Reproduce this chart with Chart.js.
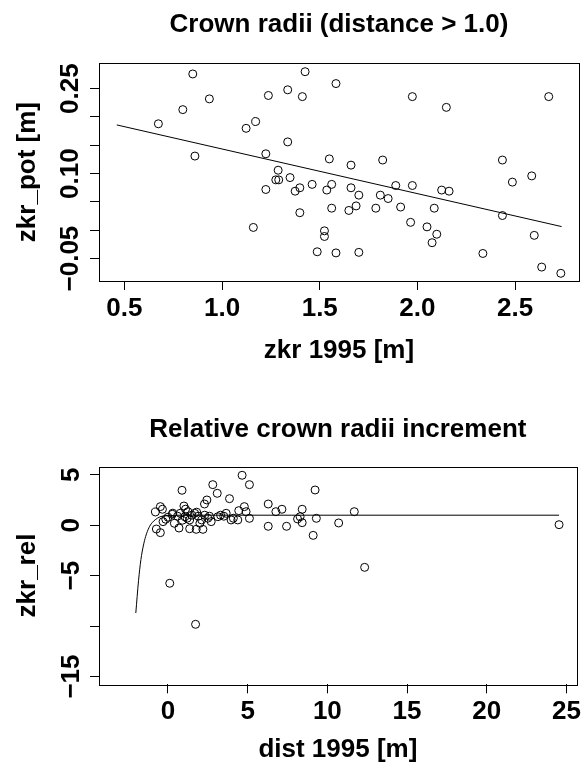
<!DOCTYPE html>
<html>
<head>
<meta charset="utf-8">
<title>Crown radii</title>
<script src="https://cdn.jsdelivr.net/npm/chart.js@4.4.1/dist/chart.umd.min.js"></script>
<style>
  body { margin: 0; background: #fff; }
  canvas { display: block; }
</style>
</head>
<body>
<canvas id="radiiChart" width="584" height="384"></canvas>
<canvas id="incrementChart" width="584" height="385"></canvas>
<script>
// upper panel: zkr_pot against zkr 1995
const zkr1995 = [0.674, 0.799, 0.850, 0.935, 0.861, 1.123, 1.172, 1.160, 1.237, 1.224,
    1.224, 1.287, 1.275, 1.290, 1.336, 1.336, 1.348, 1.411, 1.425, 1.374,
    1.398, 1.398, 1.461, 1.487, 1.524, 1.524, 1.536, 1.549, 1.561, 1.561,
    1.583, 1.583, 1.660, 1.660, 1.700, 1.686, 1.649, 1.700, 1.822, 1.810,
    1.850, 1.787, 1.889, 1.974, 1.974, 1.914, 1.965, 2.049, 2.099, 2.075,
    2.086, 2.124, 2.162, 2.148, 2.335, 2.435, 2.435, 2.486, 2.585, 2.598,
    2.636, 2.672, 2.734];
const zkrPot = [0.188, 0.213, 0.276, 0.232, 0.131, 0.180, 0.192, 0.005, 0.238, 0.135,
    0.072, 0.106, 0.089, 0.089, 0.248, 0.156, 0.093, 0.236, 0.280, 0.069,
    0.075, 0.031, 0.081, -0.038, -0.001, -0.011, 0.071, 0.126, 0.081, 0.039,
    0.259, -0.040, 0.115, 0.075, 0.062, 0.043, 0.035, -0.039, 0.124, 0.062,
    0.056, 0.039, 0.079, 0.079, 0.236, 0.041, 0.014, 0.006, -0.007, -0.022,
    0.039, 0.071, 0.069, 0.217, -0.041, 0.124, 0.026, 0.085, 0.096, -0.009,
    -0.065, 0.236, -0.076];
const fitTopX = [0.461, 2.738];
const fitTopY = [0.186, 0.0065];
const topXTicks = [0.5, 1.0, 1.5, 2.0, 2.5];
const topXLabels = ['0.5', '1.0', '1.5', '2.0', '2.5'];
const topYTicks = [-0.05, 0, 0.05, 0.10, 0.15, 0.20, 0.25];
const topYLabels = ['\u22120.05', '', '', '0.10', '', '', '0.25'];

// lower panel: relative increment against distance
const dist1995 = [-0.79, -0.48, -0.35, -0.73, -0.48, -0.31, -0.14, 0.11, 0.27, 0.40,
    0.69, 0.88, 0.77, 1.00, 1.06, 1.36, 1.36, 1.25, 1.73, 1.67,
    1.77, 2.19, 2.11, 2.29, 2.44, 2.71, 2.81, 3.09, 3.13, 3.65,
    3.86, 3.96, 4.38, 4.44, 4.65, 4.79, 5.11, 5.11, 4.90, 6.29,
    6.29, 6.77, 7.15, 7.44, 8.42, 8.13, 8.29, 8.42, 9.23, 9.31,
    9.11, 10.71, 11.69, 12.34, 24.54, 0.00, 0.30, 0.60, 1.20, 1.50,
    1.90, 2.00, 2.30, 2.60, 3.30, 3.50, 4.10, 0.90, 1.80, 1.10, 2.50];
const zkrRel = [1.32, 1.85, 1.59, -0.37, -0.73, 0.36, 0.60, -5.75, 1.09, 0.20,
    -0.27, 3.47, 1.19, 1.91, 0.85, -0.34, 0.53, 1.35, -9.82, 1.19,
    -0.40, -0.40, 0.53, 2.11, 2.51, 0.36, 4.03, 3.17, 0.85, 1.19,
    2.64, 0.53, 0.53, 1.45, 4.96, 1.85, 4.03, 0.69, 1.35, 2.11,
    -0.10, 1.35, 1.59, -0.10, 1.59, 0.63, 0.85, 0.26, 3.50, 0.69,
    -1.00, 0.23, 1.35, -4.17, 0.06, 0.80, 1.20, 0.90, 0.70, 1.00,
    0.90, 0.20, 1.00, 0.90, 1.00, 0.90, 0.70, 0.50, 1.30, 1.60, 0.70];
const curveX = [-2.02, -1.85, -1.70, -1.55, -1.40, -1.20, -1.00, -0.80, -0.50, 0.00, 1.00, 3.00, 24.54];
const curveY = [-8.70, -5.50, -3.40, -2.05, -1.10, -0.25, 0.25, 0.55, 0.84, 0.95, 1.00, 1.00, 1.00];
const bottomXTicks = [0, 5, 10, 15, 20, 25];
const bottomXLabels = ['0', '5', '10', '15', '20', '25'];
const bottomYTicks = [-15, -10, -5, 0, 5];
const bottomYLabels = ['\u221215', '', '\u22125', '0', '5'];

const FONT = '"Liberation Sans", Arial, Helvetica, sans-serif';
Chart.defaults.font.family = FONT;
Chart.defaults.font.weight = 'bold';
Chart.defaults.font.size = 26;
Chart.defaults.color = '#000';

// R style frame round the plot region
const boxPlugin = {
    id: 'plotBox',
    afterDraw(chart) {
        const { ctx, chartArea: a } = chart;
        ctx.save();
        ctx.strokeStyle = '#000';
        ctx.lineWidth = 1;
        ctx.strokeRect(Math.round(a.left) + 0.5, Math.round(a.top) + 0.5,
            Math.round(a.right - a.left), Math.round(a.bottom - a.top));
        ctx.restore();
    }
};

function toPoints(xs, ys) {
    return xs.map((x, i) => ({ x: x, y: ys[i] }));
}

function axis(o) {
    const vertical = o.position === 'left';
    return {
        type: 'linear',
        position: o.position,
        min: o.min,
        max: o.max,
        afterBuildTicks: s => { s.ticks = o.ticks.map(v => ({ value: v })); },
        afterFit: s => { if (vertical) s.width = o.size; else s.height = o.size; },
        border: { display: false },
        grid: {
            drawOnChartArea: false,
            drawTicks: true,
            tickLength: 9,
            tickColor: '#000',
            tickWidth: 1
        },
        ticks: {
            autoSkip: false,
            padding: o.tickPadding,
            minRotation: vertical ? 90 : 0,
            maxRotation: vertical ? 90 : 0,
            crossAlign: vertical ? 'center' : 'near',
            callback: (v, i) => o.labels[i]
        },
        title: {
            display: true,
            text: o.title,
            font: { size: 26, weight: 'bold' },
            padding: vertical ? { top: o.titlePad, bottom: 0 } : { top: 0, bottom: o.titlePad }
        }
    };
}

function makeChart(id, cfg) {
    const ctx = document.getElementById(id).getContext('2d');
    return new Chart(ctx, {
        type: 'scatter',
        data: {
            datasets: [{
                data: cfg.points,
                pointStyle: 'circle',
                pointRadius: 4,
                borderWidth: 1,
                borderColor: '#000',
                backgroundColor: 'rgba(0,0,0,0)'
            }, {
                data: cfg.line,
                showLine: true,
                pointRadius: 0,
                borderWidth: 1,
                borderColor: '#000',
                cubicInterpolationMode: 'monotone'
            }]
        },
        options: {
            responsive: false,
            animation: false,
            devicePixelRatio: 1,
            layout: { padding: { left: 0, right: cfg.rightPad, top: 0, bottom: 0 } },
            plugins: {
                legend: { display: false },
                tooltip: { enabled: false },
                title: {
                    display: true,
                    fullSize: false,
                    text: cfg.title,
                    font: { size: 26, weight: 'bold' },
                    padding: cfg.titlePad
                }
            },
            scales: { x: cfg.x, y: cfg.y }
        },
        plugins: [boxPlugin]
    });
}

makeChart('radiiChart', {
    title: 'Crown radii (distance > 1.0)',
    titlePad: { top: 9, bottom: 23 },
    rightPad: 5,
    points: toPoints(zkr1995, zkrPot),
    line: toPoints(fitTopX, fitTopY),
    x: axis({ position: 'bottom', min: 0.370, max: 2.827, ticks: topXTicks, labels: topXLabels,
        size: 103, tickPadding: 3, title: 'zkr 1995 [m]', titlePad: 18 }),
    y: axis({ position: 'left', min: -0.0896, max: 0.295, ticks: topYTicks, labels: topYLabels,
        size: 99, tickPadding: -14, title: 'zkr_pot [m]', titlePad: 12 })
});

makeChart('incrementChart', {
    title: 'Relative crown radii increment',
    titlePad: { top: 30, bottom: 21.5 },
    rightPad: 5.3,
    points: toPoints(dist1995, zkrRel),
    line: toPoints(curveX, curveY),
    x: axis({ position: 'bottom', min: -4.33, max: 25.65, ticks: bottomXTicks, labels: bottomXLabels,
        size: 84.7, tickPadding: 3, title: 'dist 1995 [m]', titlePad: 3.5 }),
    y: axis({ position: 'left', min: -15.77, max: 5.81, ticks: bottomYTicks, labels: bottomYLabels,
        size: 99, tickPadding: -4, title: 'zkr_rel', titlePad: 12 })
});
</script>
</body>
</html>
